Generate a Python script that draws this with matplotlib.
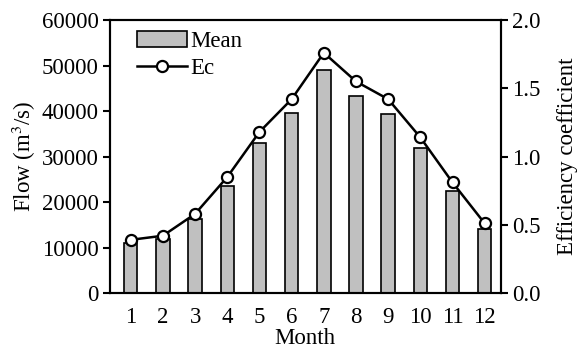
import matplotlib
matplotlib.use("Agg")
import matplotlib.pyplot as plt

months = list(range(1, 13))
month_labels = [str(m) for m in months]
mean_flow = [11100, 11800, 16300, 23600, 33000, 39600, 49000, 43200, 39400, 31900, 22500, 14100]
ec = [0.39, 0.42, 0.58, 0.85, 1.18, 1.42, 1.76, 1.55, 1.42, 1.14, 0.81, 0.51]

plt.rcParams['font.family'] = ['Liberation Serif', 'DejaVu Serif']
plt.rcParams['font.size'] = 16.5
plt.rcParams['mathtext.fontset'] = 'stix'

fig = plt.figure(figsize=(5.81, 3.51), dpi=100)
ax = fig.add_axes([0.189, 0.165, 0.673, 0.778])
bars = ax.bar(months, mean_flow, width=0.42, color='#c0c0c0', edgecolor='black', linewidth=1.2, label='Mean', zorder=2)
ax.set_ylim(0, 60000)
ax.set_xlim(0.35, 12.5)
ax.set_yticks(range(0, 60001, 10000))
ax.set_xticks(months)
ax.set_xticklabels(month_labels)
ax.tick_params(axis='x', length=0, pad=10)
ax.tick_params(axis='y', direction='out', length=5, width=1.5, pad=3)
ax.set_ylabel('Flow (m$^3$/s)', labelpad=3)
ax.set_xlabel('Month', labelpad=0)
for s in ax.spines.values():
    s.set_linewidth(1.5)

ax2 = ax.twinx()
line, = ax2.plot(months, ec, color='black', linewidth=1.8, marker='o', markersize=8,
                 markerfacecolor='white', markeredgecolor='black', markeredgewidth=1.6, label='Ec', zorder=3)
ax2.set_ylim(0, 2.0)
ax2.set_yticks([0.0, 0.5, 1.0, 1.5, 2.0])
ax2.set_yticklabels(['0.0', '0.5', '1.0', '1.5', '2.0'])
ax2.tick_params(axis='y', direction='out', length=5, width=1.5, pad=3)
ax2.set_ylabel('Efficiency coefficient', labelpad=12)
for s in ax2.spines.values():
    s.set_linewidth(1.5)

ax2.legend([bars, line], ['Mean', 'Ec'], loc='upper left', frameon=False,
           bbox_to_anchor=(0.01, 1.045), handlelength=2.2, handletextpad=0.15,
           labelspacing=0.28, borderaxespad=0.6, fontsize=16.5)

fig.savefig('out.png', dpi=100)
